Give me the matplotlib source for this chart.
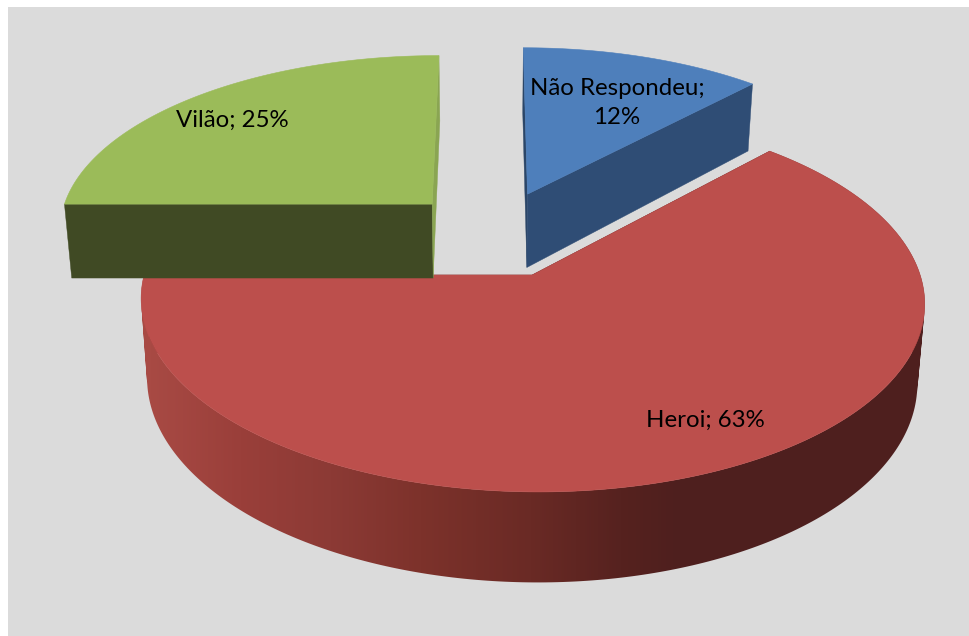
import numpy as np
import matplotlib
matplotlib.use('Agg')
import matplotlib.pyplot as plt
from matplotlib.colors import to_rgb
from matplotlib.patches import Polygon, Rectangle, PathPatch
from matplotlib.path import Path

categories = ['Não Respondeu', 'Heroi', 'Vilão']
shares = [12, 63, 25]

# styles, one per slice
top_colors = ['#4e7fbb', '#bc4f4c', '#9bbb59']
start_face = ['#2b4668', '#4e1f1e', '#404a24']
end_face = ['#2f4d75', '#4e1f1e', '#8aa552']
explode = [(0.10, 0.46), (0.106, 0.0), (-0.16, 0.40)]
label_pos = [(617, 103), (705, 420), (232, 120)]

# perspective of the pie plane, in pixels
XV, Y0, RX, RY, K = 491, 275, 388, 187, 0.138
THICK, SHRINK = 78, 0.983

# rim shading of the big slice, from left to right
rim_x = [150, 240, 330, 420, 530, 620, 680, 925]
rim_c = ['#a84a44', '#9a3f3a', '#8c3a35', '#7d322b', '#6a2a25', '#56221f', '#4e1f1e', '#4e1f1e']


def project(u, v, bottom=False):
    w = 1 + K * v
    if bottom:
        return XV + SHRINK * RX * u / w, Y0 - RY * v / w + THICK / w
    return XV + RX * u / w, Y0 - RY * v / w


def rim_path(tx, ty, bx, by):
    # all rim quads as one path, wound the same way so none cancels
    quads = []
    for j in range(len(tx) - 1):
        q = np.array([(tx[j], ty[j]), (tx[j + 1], ty[j + 1]), (bx[j + 1], by[j + 1]), (bx[j], by[j])])
        area = np.sum(q[:, 0] * np.roll(q[:, 1], -1) - np.roll(q[:, 0], -1) * q[:, 1])
        if area < 0:
            q = q[::-1]
        quads.append(Path(np.vstack([q, q[0]]), closed=True))
    return Path.make_compound_path(*quads)


fig = plt.figure(figsize=(9.7, 6.36), dpi=100)
ax = fig.add_axes([0, 0, 1, 1])
ax.add_patch(Rectangle((8, 7), 962, 629, facecolor='#dbdbdb', edgecolor='none', zorder=0))

# left to right colour ramp for the rim
rgb = np.array([to_rgb(c) for c in rim_c])
xs = np.arange(970)
ramp = np.stack([np.interp(xs, rim_x, rgb[:, i]) for i in range(3)], axis=-1)[np.newaxis, :, :]

# big slice last, it covers the other two
edges = np.cumsum([0] + shares) * 3.6
for i in [0, 2, 1]:
    a = np.radians(np.linspace(edges[i], edges[i + 1], 300))
    cu, cv = explode[i]
    u = cu + np.sin(a)
    v = cv + np.cos(a)
    z = 10 + 3 * i
    tx, ty = project(u, v)
    bx, by = project(u, v, True)
    apex_t = project(cu, cv)
    apex_b = project(cu, cv, True)

    # straight faces from the centre to the two ends
    for end, col in ((0, start_face[i]), (-1, end_face[i])):
        face = [apex_t, (tx[end], ty[end]), (bx[end], by[end]), apex_b]
        ax.add_patch(Polygon(face, closed=True, facecolor=col, edgecolor=col, lw=0.3, zorder=z))

    # rim
    if categories[i] == 'Heroi':
        clip = PathPatch(rim_path(tx, ty, bx, by), transform=ax.transData)
        im = ax.imshow(ramp, extent=(0, 970, 636, 0), aspect='auto', zorder=z)
        im.set_clip_path(clip)

    pts = [apex_t] + list(zip(tx, ty))
    ax.add_patch(Polygon(pts, closed=True, facecolor=top_colors[i], edgecolor=top_colors[i],
                         lw=0.4, zorder=z + 1))

for name, share, pos in zip(categories, shares, label_pos):
    if name == 'Não Respondeu':
        txt = f'{name};\n{share}%'
    else:
        txt = f'{name}; {share}%'
    ax.text(pos[0], pos[1], txt, family='Lato', fontsize=17.3, color='black',
            ha='center', va='center', linespacing=1.5, zorder=30)

ax.set_xlim(0, 970)
ax.set_ylim(636, 0)
ax.axis('off')
fig.savefig('out.png', dpi=100)
